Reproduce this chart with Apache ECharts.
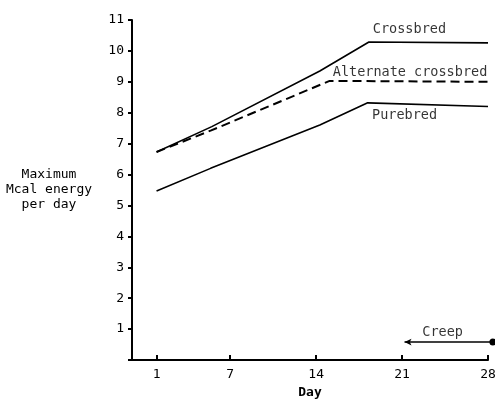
<!DOCTYPE html>
<html>
<head>
<meta charset="utf-8">
<script src="https://cdn.jsdelivr.net/npm/echarts@6/dist/echarts.min.js"></script>
<style>
  html, body { margin: 0; padding: 0; background: #fff; }
  #chart { width: 495px; height: 399px; }
</style>
</head>
<body>
<div id="chart"></div>
<script>
var dayTicks = [1, 7, 14, 21, 28];
var yTicks = [1, 2, 3, 4, 5, 6, 7, 8, 9, 10, 11];

var crossbredDays = [1, 5.5, 14.3, 18.3, 28];
var crossbredVals = [6.73, 7.55, 9.35, 10.29, 10.26];

var alternateDays = [1, 5.4, 15.1, 28];
var alternateVals = [6.73, 7.42, 9.03, 9.0];

var purebredDays = [1, 5.4, 14.3, 18.2, 28];
var purebredVals = [5.47, 6.2, 7.6, 8.32, 8.2];

var creepDays = [21.2, 28.4];
var creepVals = [0.58, 0.58];

var labelNames = ['Crossbred', 'Alternate crossbred', 'Purebred', 'Creep'];
var labelDays = [21.6, 21.65, 21.2, 24.3];
var labelVals = [10.68, 9.29, 7.9, 0.88];

var font = 'DejaVu Sans Mono';

function pairs(xs, ys) {
  return xs.map(function (x, i) { return [x, ys[i]]; });
}

var mychart = echarts.init(document.getElementById('chart'));

var option = {
  animation: false,
  grid: { left: 132, right: 7, top: 20, bottom: 39, containLabel: false, outerBoundsMode: 'none' },
  xAxis: {
    type: 'value',
    min: -1,
    max: 28,
    name: 'Day',
    nameLocation: 'middle',
    nameGap: 25,
    nameTextStyle: { fontFamily: font, fontSize: 13, fontWeight: 'bold', color: '#000' },
    splitLine: { show: false },
    axisLine: { onZero: false, lineStyle: { color: '#000', width: 2 } },
    axisTick: { inside: true, length: 5, customValues: dayTicks, lineStyle: { color: '#000', width: 2 } },
    axisLabel: { customValues: dayTicks, margin: 8, fontFamily: font, fontSize: 13, color: '#000' }
  },
  yAxis: {
    type: 'value',
    min: 0,
    max: 11,
    interval: 1,
    name: 'Maximum\nMcal energy\nper day',
    nameLocation: 'middle',
    nameRotate: 0,
    nameGap: 83,
    nameTextStyle: { fontFamily: font, fontSize: 13, color: '#000', align: 'center', lineHeight: 15 },
    splitLine: { show: false },
    axisLine: { show: true, onZero: false, lineStyle: { color: '#000', width: 2 } },
    axisTick: { length: 4, lineStyle: { color: '#000', width: 2 } },
    axisLabel: {
      margin: 8, fontFamily: font, fontSize: 13, color: '#000',
      formatter: function (v) { return yTicks.indexOf(v) >= 0 ? String(v) : ''; }
    }
  },
  series: [
    {
      name: 'Crossbred',
      type: 'line',
      data: pairs(crossbredDays, crossbredVals),
      showSymbol: false,
      lineStyle: { color: '#000', width: 1.6 }
    },
    {
      name: 'Alternate crossbred',
      type: 'line',
      data: pairs(alternateDays, alternateVals),
      showSymbol: false,
      lineStyle: { color: '#000', width: 2, type: [9, 5] }
    },
    {
      name: 'Purebred',
      type: 'line',
      data: pairs(purebredDays, purebredVals),
      showSymbol: false,
      lineStyle: { color: '#000', width: 1.6 }
    },
    {
      name: 'Creep',
      type: 'line',
      clip: false,
      data: [
        { value: [creepDays[0], creepVals[0]], symbol: 'arrow', symbolSize: [5, 7], symbolRotate: 90 },
        { value: [creepDays[1], creepVals[1]], symbol: 'circle', symbolSize: 7 }
      ],
      showSymbol: true,
      itemStyle: { color: '#000' },
      lineStyle: { color: '#000', width: 1.6 }
    },
    {
      name: 'labels',
      type: 'scatter',
      clip: false,
      symbolSize: 0,
      data: labelNames.map(function (n, i) { return { name: n, value: [labelDays[i], labelVals[i]] }; }),
      label: {
        show: true,
        position: 'inside',
        formatter: '{b}',
        fontFamily: font,
        fontSize: 13.5,
        color: '#000'
      }
    }
  ]
};

mychart.setOption(option);
</script>
</body>
</html>
